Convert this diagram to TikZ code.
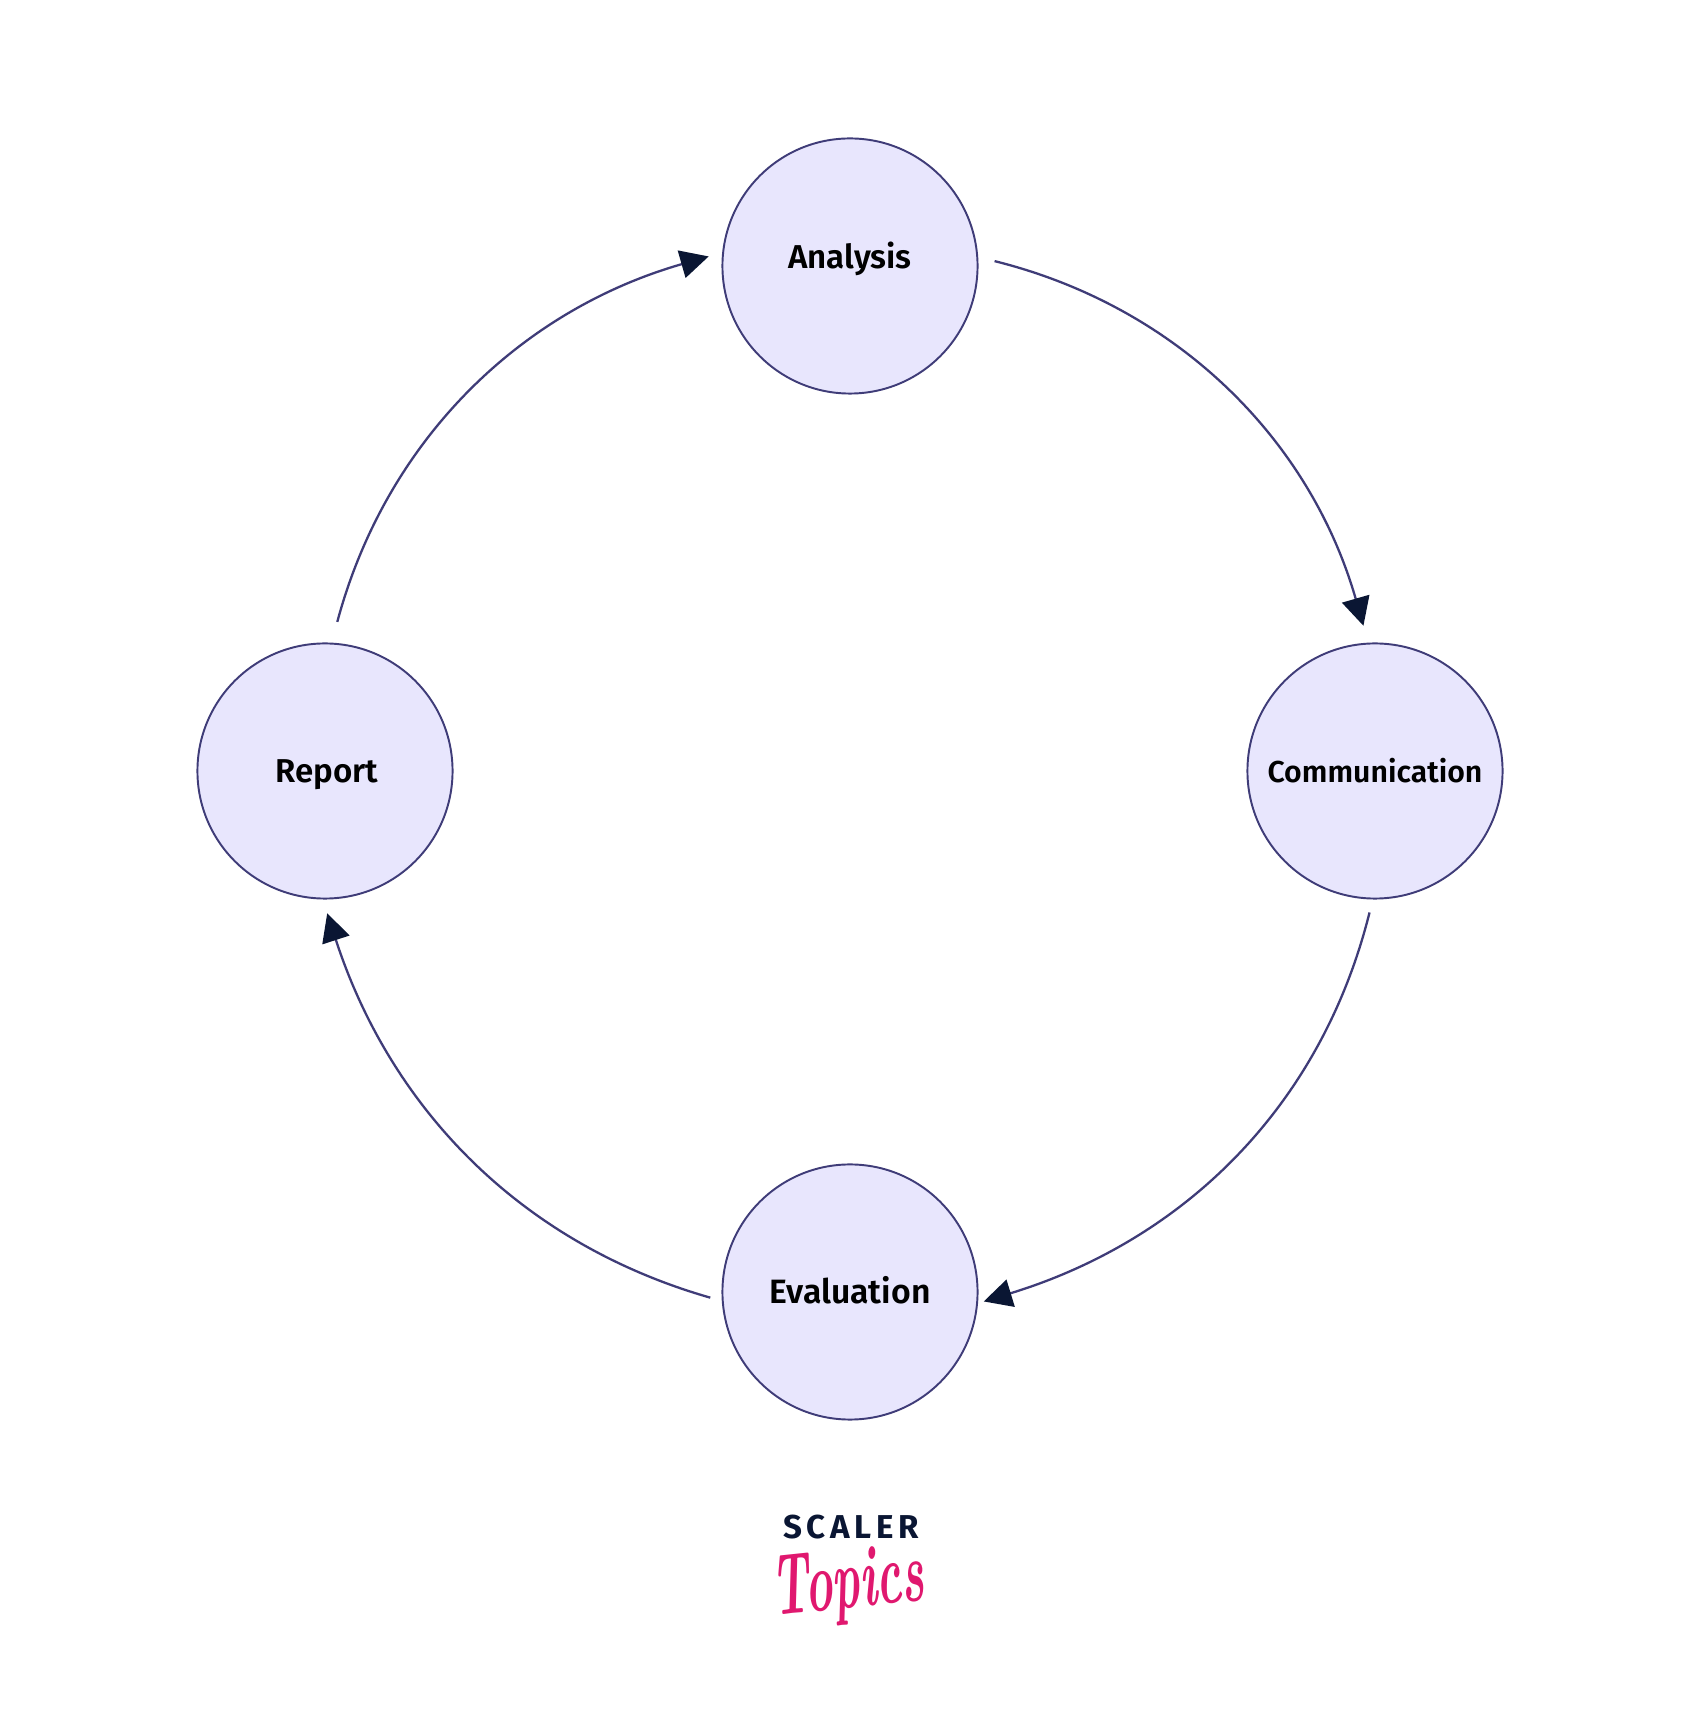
\documentclass[tikz,border=0pt]{standalone}
\usepackage{fontspec}
\usepackage{xcolor}
\usetikzlibrary{arrows.meta}
\newfontfamily\labelfont{Fira Sans}[BoldFont={Fira Sans SemiBold}]
\newfontfamily\logofont{Fira Sans}
\definecolor{stagefill}{HTML}{E8E6FD}
\definecolor{stageline}{HTML}{3F3C78}
\definecolor{tipcolor}{HTML}{0A1633}
\definecolor{logopink}{HTML}{E0186F}
\tikzset{stagefont/.style={font=\labelfont\bfseries\fontsize{9.4}{11}\selectfont,text=black,text height=7.4pt,text depth=0.6pt},
	stage/.style={circle,draw=stageline,fill=stagefill,line width=0.55pt,minimum size=255*0.2845pt,inner sep=0pt,stagefont},
	flow/.style={draw=stageline,line width=0.65pt,looseness=0.97,-{Triangle[length=8pt,width=8pt,color=tipcolor,fill=tipcolor]}}}

\begin{document}
\begin{tikzpicture}[x=0.01cm,y=0.01cm]
	\useasboundingbox (0,0) rectangle (1700,1732);
	\fill[white] (0,0) rectangle (1700,1732);

	\node[stage,label={[stagefont,yshift=2.6pt]center:Analysis}] (analysis) at (850,1466) {};
	\node[stage] (communication) at (1375,961) {\fontsize{8.6}{10}\selectfont Communication};
	\node[stage] (evaluation) at (850,440) {\fontsize{9.6}{11}\selectfont Evaluation};
	\node[stage] (report) at (325,961) {\hspace{1pt}Report};

	\draw[flow,shorten <=4.8pt,shorten >=5pt] (analysis.4) to[out=-14,in=106] (communication.93);
	\draw[flow,shorten <=3.8pt,shorten >=1.7pt] (communication.-91) to[out=-104,in=17] (evaluation.-5);
	\draw[flow,shorten <=3.4pt,shorten >=4.1pt] (evaluation.184) to[out=164,in=-72] (report.-91);
	\draw[flow,shorten <=6.1pt,shorten >=4pt] (report.87) to[out=75,in=196] (analysis.174);

	\node[font=\logofont\bfseries\fontsize{9.4}{11}\selectfont,text=tipcolor,inner sep=0pt] (scaler) at (851,205) {S\kern1.3pt C\kern1.3pt A\kern1.3pt L\kern1.3pt E\kern1.3pt R};
	\node[font=\itshape\bfseries\fontsize{19}{22}\selectfont,text=logopink,rotate=6,xscale=0.7,yscale=1.3,inner sep=0pt] (topics) at (848,145) {Topics};
\end{tikzpicture}
\end{document}
